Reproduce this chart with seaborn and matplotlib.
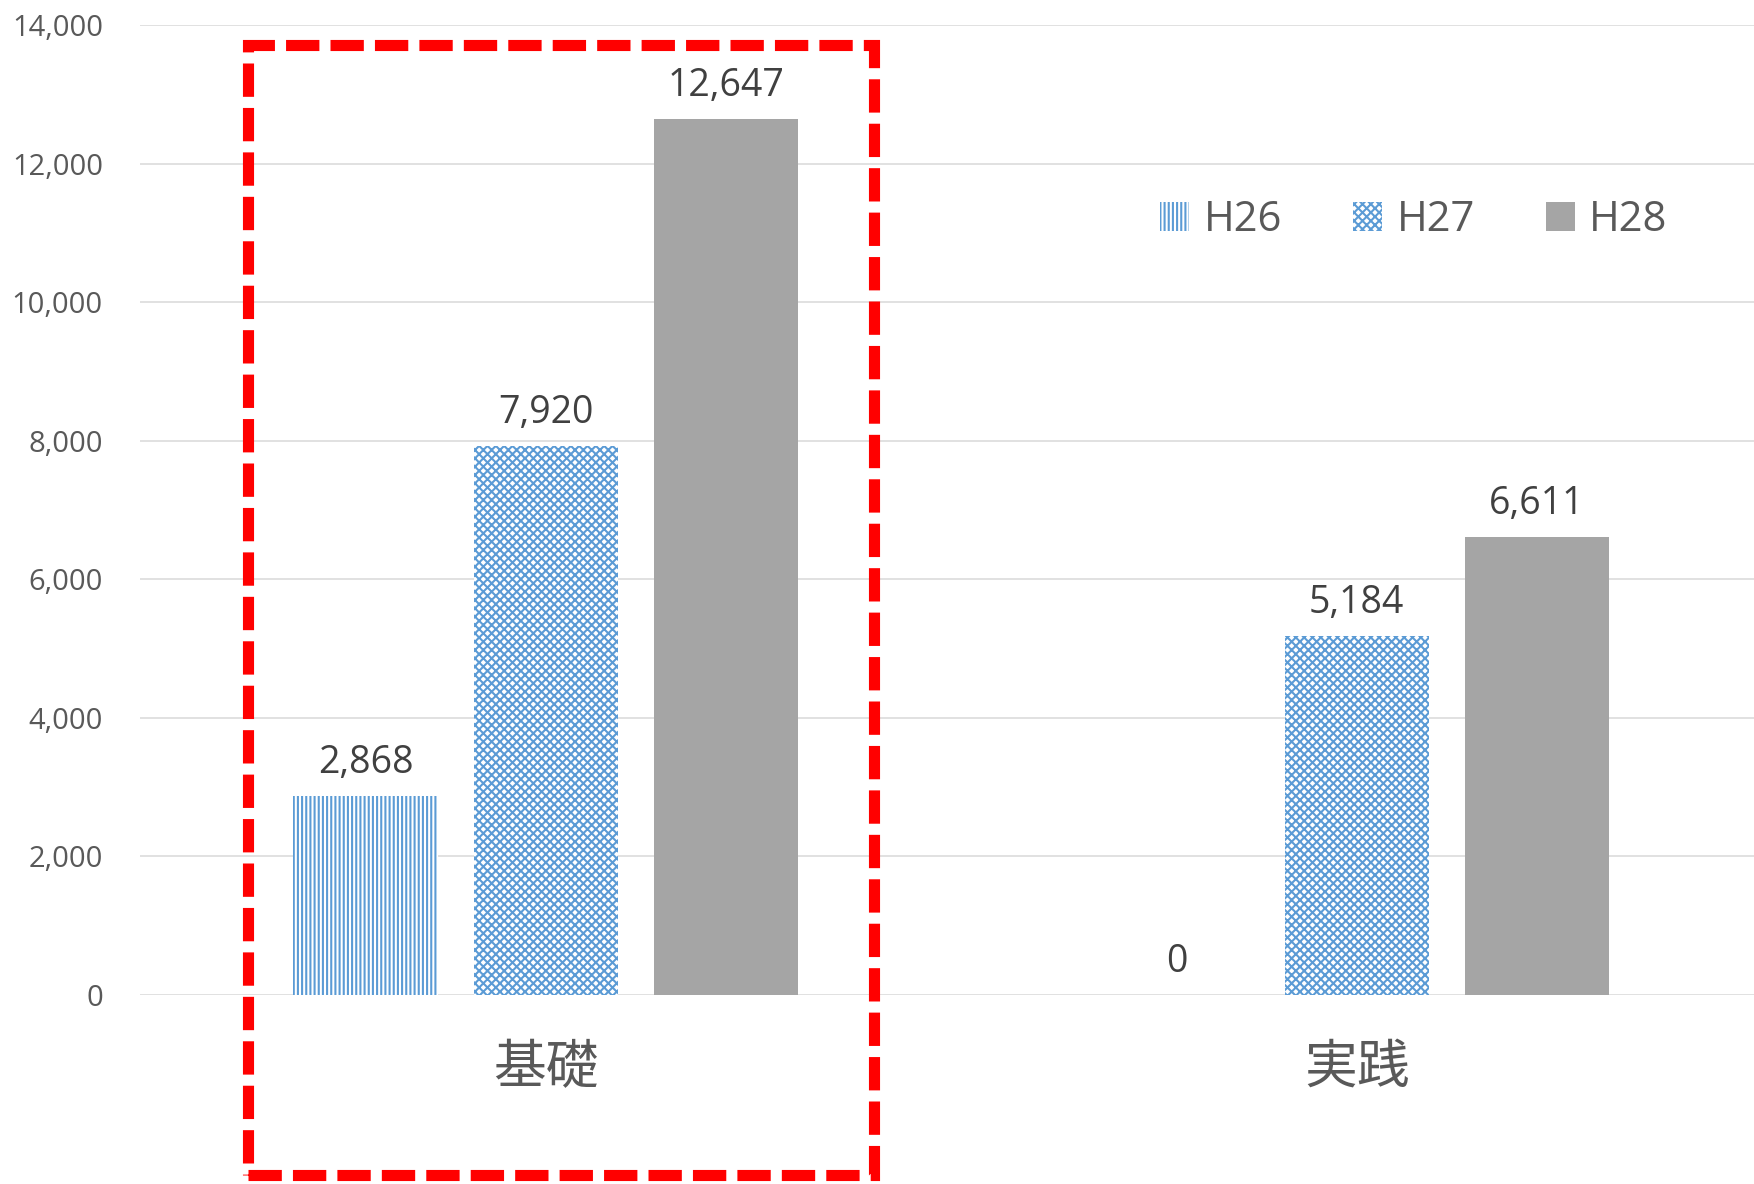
import seaborn as sns
import matplotlib.pyplot as plt
import pandas as pd
from matplotlib.patches import Rectangle

# chart data
categories = ["基礎", "実践"]
years = ["H26", "H27", "H28"]
h26 = [2868, 0]
h27 = [7920, 5184]
h28 = [12647, 6611]

df = pd.DataFrame({
    "category": categories * 3,
    "year": [y for y in years for _ in categories],
    "value": h26 + h27 + h28,
})

sns.set_style("white")
plt.rcParams['font.family'] = ['Open Sans', 'Noto Sans CJK JP', 'DejaVu Sans']
plt.rcParams['hatch.linewidth'] = 1.5

blue = "#5b9bd5"
gray = "#a5a5a5"

fig = plt.figure(figsize=(17.54, 11.84), dpi=100)
ax = fig.add_axes([0.0800, 0.1596, 0.9247, 0.8193])

sns.barplot(data=df, x="category", y="value", hue="year", order=categories,
            hue_order=years, palette=[blue, blue, gray], width=0.667, gap=0.2,
            legend=False, ax=ax)

# patterns like the original: vertical lines, checker, solid
styles = [("white", blue, "||||"), ("white", blue, "xxxx"), (gray, gray, None)]
for cont, (fc, ec, hatch) in zip(ax.containers, styles):
    for bar in cont:
        bar.set_facecolor(fc)
        bar.set_edgecolor(ec)
        bar.set_linewidth(0)
        bar.set_hatch(hatch)
    ax.bar_label(cont, fmt="{:,.0f}", padding=10, fontsize=27, color="#404040")

ax.set_ylim(0, 14000)
ax.set_xlim(-0.5, 1.5)
ax.set_yticks(range(0, 14001, 2000))
ax.yaxis.set_major_formatter(plt.FuncFormatter(lambda v, p: f"{v:,.0f}"))
ax.grid(axis="y", color="#d9d9d9", linewidth=1.1)
ax.set_axisbelow(True)
for s in ax.spines.values():
    s.set_visible(False)
ax.tick_params(axis="y", length=0, pad=27, labelsize=21, labelcolor="#595959")
ax.tick_params(axis="x", length=0, pad=34, labelsize=38, labelcolor="#595959")
ax.set_xlabel("")
ax.set_ylabel("")

ax.legend(ax.containers, years, loc="center", bbox_to_anchor=(0.806, 0.814),
          bbox_transform=fig.transFigure, ncol=3, frameon=False, fontsize=30,
          handlelength=0.7, handleheight=0.7, handletextpad=0.35,
          columnspacing=1.7, labelcolor="#595959")

# red dashed highlight box around 基礎
fig.patches.append(Rectangle((0.1414, 0.0076), 0.3569, 0.9544,
                             transform=fig.transFigure, fill=False,
                             edgecolor="red", linewidth=8,
                             linestyle=(0, (3, 1)), zorder=5))

fig.savefig("out.png", dpi=100)
